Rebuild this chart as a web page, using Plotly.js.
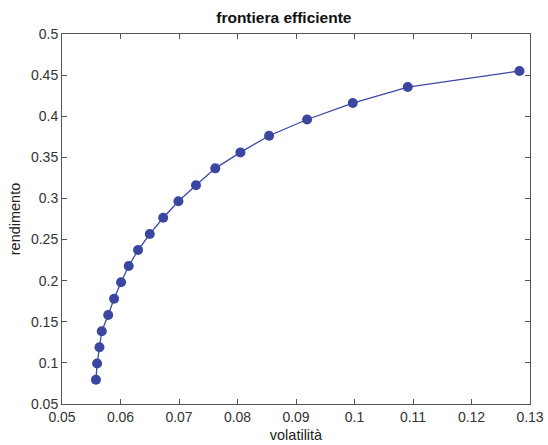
<!DOCTYPE html>
<html>
<head>
<meta charset="utf-8">
<script src="https://cdn.plot.ly/plotly-3.0.1.min.js"></script>
<style>html,body{margin:0;padding:0;background:#fff;}#chart{width:548px;height:445px;}</style>
</head>
<body>
<div id="chart"></div>
<script>
const volatility = [0.0558, 0.0560, 0.0564, 0.0568, 0.0579, 0.0589, 0.0601, 0.0614, 0.0630, 0.0650, 0.0673, 0.0699, 0.0729, 0.0762, 0.0805, 0.0854, 0.0919, 0.0997, 0.1091, 0.1282];
const returns = [0.0795, 0.0992, 0.1190, 0.1385, 0.1582, 0.1780, 0.1980, 0.2178, 0.2372, 0.2567, 0.2765, 0.2965, 0.3160, 0.3366, 0.3560, 0.3763, 0.3960, 0.4160, 0.4355, 0.4550];
const xTicks = [0.05, 0.06, 0.07, 0.08, 0.09, 0.1, 0.11, 0.12, 0.13];
const xTickLabels = ['0.05', '0.06', '0.07', '0.08', '0.09', '0.1', '0.11', '0.12', '0.13'];
const yTicks = [0.05, 0.1, 0.15, 0.2, 0.25, 0.3, 0.35, 0.4, 0.45, 0.5];
const yTickLabels = ['0.05', '0.1', '0.15', '0.2', '0.25', '0.3', '0.35', '0.4', '0.45', '0.5'];

const FONT = 'Liberation Sans, Arial, sans-serif';
const axisCommon = {
  showgrid: false, zeroline: false, showline: true, mirror: 'ticks',
  linecolor: '#555', linewidth: 1, ticks: 'inside', ticklen: 5, tickcolor: '#555',
  tickfont: {family: FONT, size: 14, color: '#333'}
};

Plotly.newPlot('chart', [{
  x: volatility, y: returns, type: 'scatter', mode: 'lines+markers',
  line: {color: '#3d48a3', width: 1.3},
  marker: {color: '#3a46a0', size: 10}
}], {
  width: 548, height: 445,
  margin: {l: 62, r: 18, t: 34, b: 41},
  paper_bgcolor: '#fff', plot_bgcolor: '#fff',
  showlegend: false,
  title: {text: '<b>frontiera efficiente</b>', font: {family: FONT, size: 15.5, color: '#111'}, x: 0.518, xanchor: 'center', y: 0.96, yanchor: 'middle'},
  xaxis: Object.assign({}, axisCommon, {range: [0.05, 0.13], tickvals: xTicks, ticktext: xTickLabels,
    title: {text: 'volatilità', font: {family: FONT, size: 14.5, color: '#222'}, standoff: 6}}),
  yaxis: Object.assign({}, axisCommon, {range: [0.05, 0.5], tickvals: yTicks, ticktext: yTickLabels,
    title: {text: 'rendimento', font: {family: FONT, size: 14.5, color: '#222'}, standoff: 6}})
}, {displayModeBar: false, staticPlot: true});
</script>
</body>
</html>
